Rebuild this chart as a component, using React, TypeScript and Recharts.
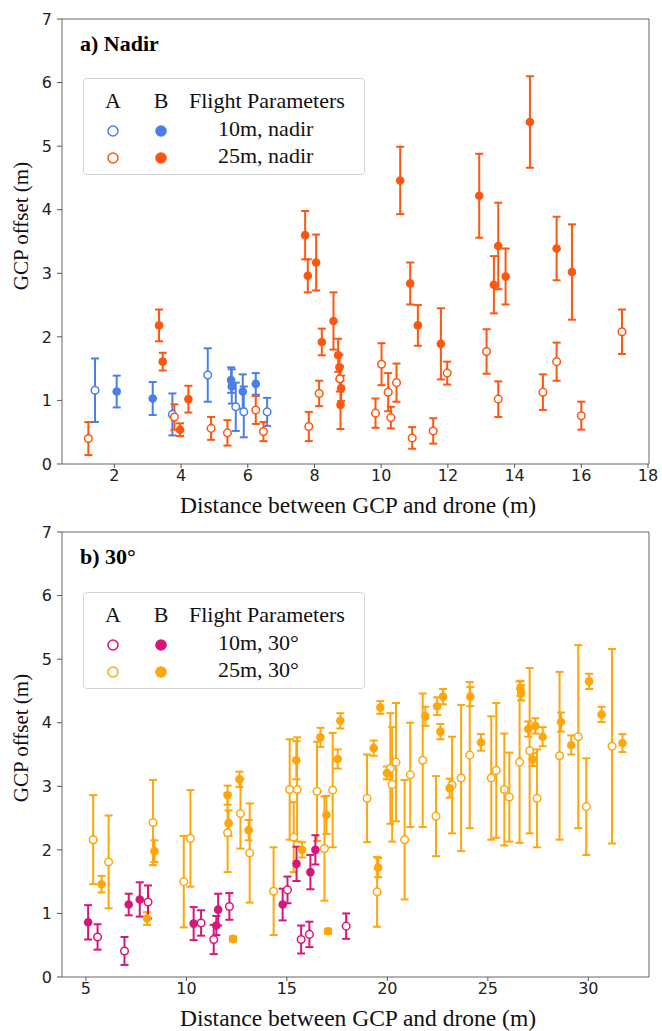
import React from "react";
import {
  ScatterChart,
  Scatter,
  XAxis,
  YAxis,
  ErrorBar,
  ReferenceLine,
} from "recharts";

// [distance (m), GCP offset (m), error]
type Pt = [number, number, number];

// a) Nadir
const nadir10A: Pt[] = [
  [1.42, 1.16, 0.5], [3.74, 0.78, 0.33], [4.8, 1.4, 0.42],
  [5.64, 0.9, 0.38], [5.88, 0.82, 0.4], [6.58, 0.82, 0.22],
];
const nadir10B: Pt[] = [
  [2.07, 1.14, 0.25], [3.15, 1.03, 0.26], [5.5, 1.32, 0.2],
  [5.52, 1.22, 0.27], [5.85, 1.14, 0.27], [6.24, 1.26, 0.17],
];
const nadir25A: Pt[] = [
  [1.22, 0.4, 0.26], [3.8, 0.74, 0.2], [4.9, 0.56, 0.18], [5.39, 0.49, 0.2],
  [6.24, 0.85, 0.22], [6.47, 0.51, 0.15], [7.83, 0.59, 0.23], [8.14, 1.11, 0.2],
  [8.76, 1.34, 0.2], [9.83, 0.8, 0.23], [10.01, 1.57, 0.33], [10.21, 1.13, 0.3],
  [10.29, 0.73, 0.17], [10.46, 1.28, 0.3], [10.93, 0.41, 0.17], [11.56, 0.52, 0.2],
  [11.98, 1.43, 0.18], [13.16, 1.77, 0.35], [13.51, 1.02, 0.28], [14.85, 1.13, 0.28],
  [15.26, 1.61, 0.3], [16.0, 0.76, 0.22], [17.22, 2.08, 0.35],
];
const nadir25B: Pt[] = [
  [3.34, 2.18, 0.25], [3.45, 1.61, 0.14], [3.97, 0.54, 0.1], [4.22, 1.02, 0.21],
  [7.72, 3.6, 0.38], [7.8, 2.96, 0.26], [8.05, 3.17, 0.44], [8.22, 1.92, 0.21],
  [8.57, 2.25, 0.45], [8.71, 1.71, 0.26], [8.75, 1.52, 0.2], [8.8, 1.19, 0.2],
  [8.78, 0.93, 0.38], [10.57, 4.46, 0.53], [10.87, 2.84, 0.33], [11.1, 2.18, 0.32],
  [11.79, 1.89, 0.56], [12.94, 4.22, 0.66], [13.38, 2.82, 0.45], [13.51, 3.43, 0.68],
  [13.73, 2.95, 0.44], [14.46, 5.38, 0.72], [15.26, 3.39, 0.5], [15.72, 3.02, 0.75],
];

// b) 30°
const tilt10A: Pt[] = [
  [5.58, 0.63, 0.2], [6.92, 0.41, 0.22], [8.09, 1.18, 0.26], [10.73, 0.85, 0.2],
  [11.36, 0.59, 0.23], [12.14, 1.11, 0.21], [15.03, 1.37, 0.21], [15.71, 0.59, 0.22],
  [16.12, 0.67, 0.2], [17.95, 0.8, 0.2],
];
const tilt10B: Pt[] = [
  [5.11, 0.86, 0.27], [7.13, 1.14, 0.17], [7.68, 1.22, 0.27], [10.36, 0.84, 0.26],
  [11.49, 0.81, 0.15], [11.58, 1.06, 0.25], [14.79, 1.14, 0.25], [15.48, 1.78, 0.27],
  [16.17, 1.65, 0.27], [16.42, 2.0, 0.23],
];
const tilt25A: Pt[] = [
  [5.36, 2.16, 0.7], [6.13, 1.81, 0.73], [8.34, 2.43, 0.67], [9.87, 1.5, 0.72],
  [10.2, 2.18, 0.76], [12.05, 2.27, 0.62], [12.69, 2.57, 0.55], [13.15, 1.95, 0.78],
  [14.34, 1.35, 0.69], [15.14, 2.95, 0.79], [15.34, 2.2, 0.55], [15.51, 2.95, 0.82],
  [16.5, 2.92, 0.78], [16.87, 2.02, 0.82], [17.28, 2.94, 0.9], [18.99, 2.81, 0.69],
  [19.49, 1.34, 0.55], [20.15, 3.28, 0.87], [20.24, 3.03, 0.9], [20.43, 3.38, 0.93],
  [20.86, 2.16, 0.94], [21.14, 3.18, 0.82], [21.76, 3.41, 1.05], [22.42, 2.53, 0.63],
  [23.22, 3.02, 0.76], [23.67, 3.13, 1.15], [24.1, 3.49, 1.15], [25.17, 3.13, 0.97],
  [25.42, 3.25, 1.06], [25.82, 2.95, 0.88], [26.07, 2.83, 0.7], [26.58, 3.38, 1.27],
  [27.08, 3.56, 1.3], [27.45, 2.81, 0.77], [28.57, 3.48, 1.32], [29.5, 3.78, 1.44],
  [29.9, 2.68, 0.76], [31.18, 3.63, 1.53],
];
const tilt25B: Pt[] = [
  [5.78, 1.46, 0.13], [8.04, 0.92, 0.1], [8.41, 1.98, 0.17], [12.05, 2.86, 0.15],
  [12.1, 2.42, 0.2], [12.32, 0.6, 0.04], [12.64, 3.11, 0.12], [13.1, 2.31, 0.16],
  [15.47, 3.41, 0.3], [15.76, 2.0, 0.12], [16.67, 3.77, 0.15], [16.97, 2.55, 0.3],
  [17.05, 0.72, 0.04], [17.53, 3.43, 0.15], [17.66, 4.03, 0.12], [19.32, 3.6, 0.12],
  [19.54, 1.72, 0.15], [19.65, 4.24, 0.1], [19.98, 3.21, 0.1], [21.89, 4.1, 0.15],
  [22.48, 4.26, 0.14], [22.64, 3.86, 0.12], [22.77, 4.41, 0.12], [23.1, 2.97, 0.15],
  [24.13, 4.41, 0.15], [24.66, 3.69, 0.13], [26.62, 4.54, 0.12], [26.66, 4.47, 0.12],
  [27.01, 3.9, 0.12], [27.23, 3.42, 0.1], [27.36, 3.95, 0.12], [27.73, 3.78, 0.15],
  [28.64, 4.01, 0.15], [29.15, 3.65, 0.15], [30.04, 4.65, 0.12], [30.66, 4.13, 0.12],
  [31.7, 3.68, 0.14],
];

const yTicks = [0, 1, 2, 3, 4, 5, 6, 7];
const xTicksA = [2, 4, 6, 8, 10, 12, 14, 16, 18];
const xTicksB = [5, 10, 15, 20, 25, 30];

const BLUE = "#4a7fe8";
const RED = "#ff560f";
const PINK = "#d6177a";
const GOLD = "#ffa60a";

const SERIF = '"Liberation Serif", "Times New Roman", serif';
const SANS = '"DejaVu Sans", sans-serif';

const toRows = (pts: Pt[]) => pts.map(([x, y, e]) => ({ x, y, e }));

const openDot = (color: string) => (p: any) =>
  <circle cx={p.cx} cy={p.cy} r={3.8} fill="#fff" stroke={color} strokeWidth={1.5} />;
const fullDot = (color: string) => (p: any) =>
  <circle cx={p.cx} cy={p.cy} r={4.3} fill={color} />;

interface SeriesDef {
  name: string;
  pts: Pt[];
  color: string;
  open: boolean;
}

function Legend({ top, rows }: { top: number; rows: { label: string; color: string }[] }) {
  const cell = (cx: number, cy: number, children: React.ReactNode) => (
    <div style={{ position: "absolute", left: cx - 11, top: cy - 11, width: 22, height: 22, textAlign: "center", lineHeight: "22px" }}>
      {children}
    </div>
  );
  return (
    <div
      style={{
        position: "absolute", left: 83, top, width: 280, height: 95,
        border: "1px solid #d4d4d4", borderRadius: 4, background: "#fff",
        fontFamily: SERIF, fontSize: 22, color: "#111",
      }}
    >
      {cell(29, 22, "A")}
      {cell(77, 22, "B")}
      <div style={{ position: "absolute", left: 105, top: 11, lineHeight: "22px", whiteSpace: "nowrap" }}>
        Flight Parameters
      </div>
      {rows.map((r, i) => {
        const cy = 50 + i * 27;
        return (
          <React.Fragment key={r.label}>
            {cell(29, cy, <svg width={14} height={14} style={{ verticalAlign: "middle" }}><circle cx={7} cy={7} r={5} fill="#fff" stroke={r.color} strokeWidth={1.5} /></svg>)}
            {cell(77, cy, <svg width={14} height={14} style={{ verticalAlign: "middle" }}><circle cx={7} cy={7} r={5.8} fill={r.color} /></svg>)}
            <div style={{ position: "absolute", left: 134, top: cy - 11, lineHeight: "22px", whiteSpace: "nowrap" }}>
              {r.label}
            </div>
          </React.Fragment>
        );
      })}
    </div>
  );
}

function Panel({
  top, height, xAxisHeight, xDomain, xTicks, series, title, legendRows, yLabelCenter, xLabelCenter,
}: {
  top: number; height: number; xAxisHeight: number; xDomain: [number, number]; xTicks: number[];
  series: SeriesDef[]; title: string; legendRows: { label: string; color: string }[];
  yLabelCenter: number; xLabelCenter: number;
}) {
  return (
    <div style={{ position: "absolute", left: 0, top, width: 662, height }}>
      <ScatterChart width={662} height={height} margin={{ top: 19, right: 13, bottom: 0, left: 0 }}>
        <XAxis
          type="number" dataKey="x" domain={xDomain} ticks={xTicks} allowDataOverflow
          height={xAxisHeight} tickSize={4} tickMargin={2}
          axisLine={{ stroke: "#666" }} tickLine={{ stroke: "#555" }}
          tick={{ fill: "#222", fontSize: 16, fontFamily: SANS }}
        />
        <YAxis
          type="number" dataKey="y" domain={[0, 7]} ticks={yTicks} allowDataOverflow
          width={62} tickSize={5} tickMargin={5}
          axisLine={{ stroke: "#666" }} tickLine={{ stroke: "#555" }}
          tick={{ fill: "#222", fontSize: 16, fontFamily: SANS }}
        />
        <ReferenceLine y={7} stroke="#666" />
        <ReferenceLine x={xDomain[1]} stroke="#666" />
        {series.map((s) => (
          <Scatter
            key={s.name} name={s.name} data={toRows(s.pts)} isAnimationActive={false}
            shape={s.open ? openDot(s.color) : fullDot(s.color)}
          >
            <ErrorBar dataKey="e" direction="y" width={4} stroke={s.color} strokeWidth={2} />
          </Scatter>
        ))}
      </ScatterChart>
      <div style={{ position: "absolute", left: 80, top: 32, fontFamily: SERIF, fontSize: 22, fontWeight: "bold", lineHeight: "24px", whiteSpace: "nowrap" }}>
        {title}
      </div>
      <div
        style={{
          position: "absolute", left: 21, top: yLabelCenter, transform: "translate(-50%, -50%) rotate(-90deg)",
          fontFamily: SERIF, fontSize: 21, whiteSpace: "nowrap", lineHeight: "22px", color: "#111",
        }}
      >
        GCP offset (m)
      </div>
      <div
        style={{
          position: "absolute", left: 358, top: xLabelCenter, transform: "translate(-50%, -50%)",
          fontFamily: SERIF, fontSize: 23.5, whiteSpace: "nowrap", lineHeight: "24px", color: "#111",
        }}
      >
        Distance between GCP and drone (m)
      </div>
      <Legend top={title.startsWith("a") ? 78 : 79} rows={legendRows} />
    </div>
  );
}

export default function App() {
  return (
    <div style={{ position: "absolute", left: 0, top: 0, width: 662, height: 1031, background: "#fff" }}>
      <Panel
        top={0} height={515} xAxisHeight={51} xDomain={[0.43, 18.03]} xTicks={xTicksA}
        title="a) Nadir" yLabelCenter={226} xLabelCenter={505}
        series={[
          { name: "10m, nadir A", pts: nadir10A, color: BLUE, open: true },
          { name: "10m, nadir B", pts: nadir10B, color: BLUE, open: false },
          { name: "25m, nadir A", pts: nadir25A, color: RED, open: true },
          { name: "25m, nadir B", pts: nadir25B, color: RED, open: false },
        ]}
        legendRows={[
          { label: "10m, nadir", color: BLUE },
          { label: "25m, nadir", color: RED },
        ]}
      />
      <Panel
        top={513} height={518} xAxisHeight={54} xDomain={[3.81, 33.02]} xTicks={xTicksB}
        title="b) 30°" yLabelCenter={225} xLabelCenter={505}
        series={[
          { name: "25m, 30° A", pts: tilt25A, color: GOLD, open: true },
          { name: "25m, 30° B", pts: tilt25B, color: GOLD, open: false },
          { name: "10m, 30° A", pts: tilt10A, color: PINK, open: true },
          { name: "10m, 30° B", pts: tilt10B, color: PINK, open: false },
        ]}
        legendRows={[
          { label: "10m, 30°", color: PINK },
          { label: "25m, 30°", color: GOLD },
        ]}
      />
    </div>
  );
}
